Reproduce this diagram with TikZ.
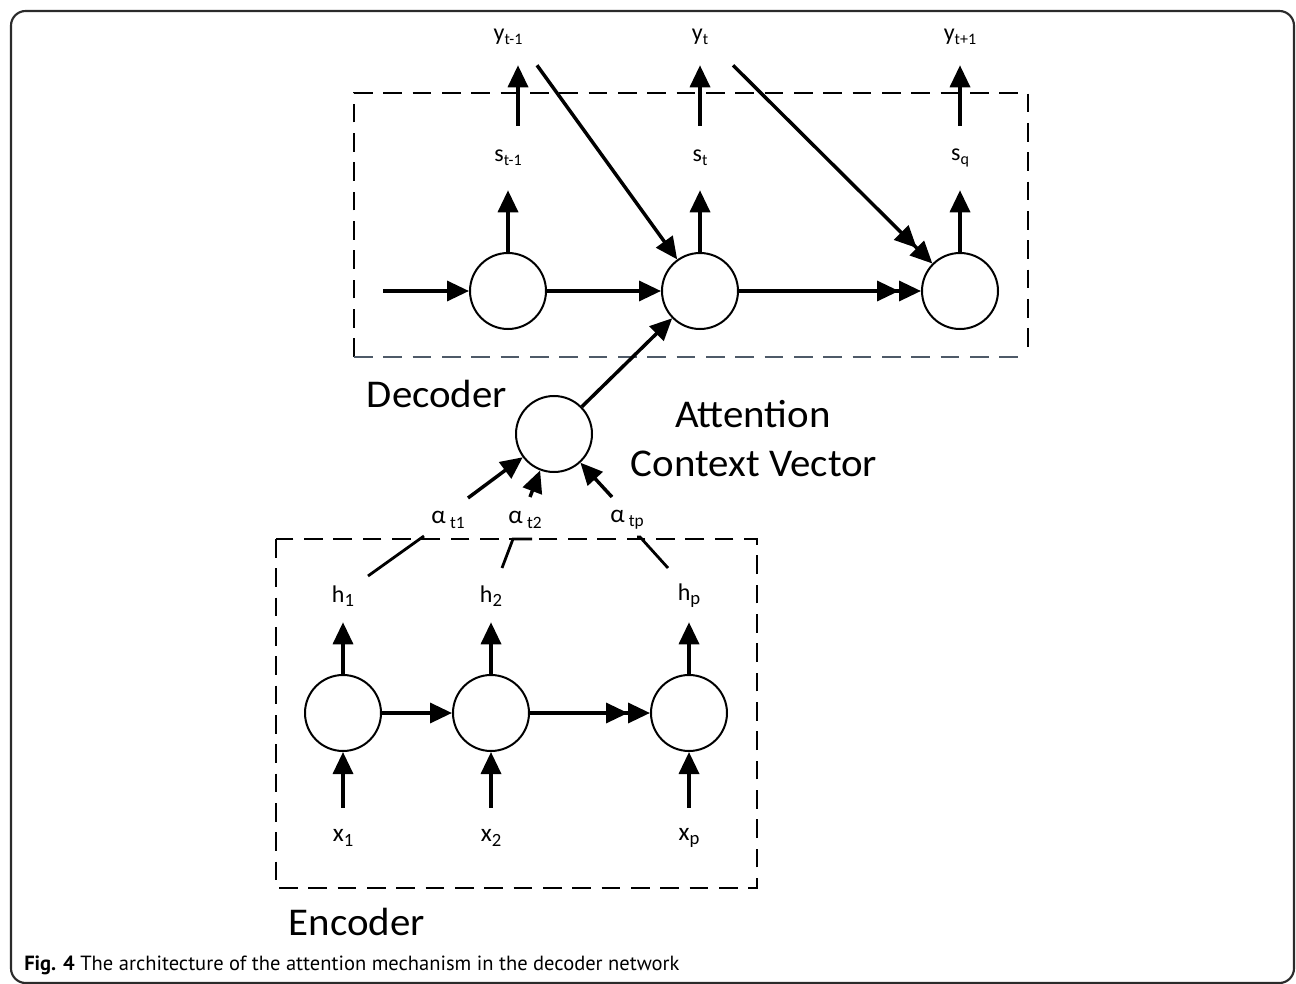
\documentclass[tikz,border=0pt]{standalone}
\usepackage{fontspec}
\setmainfont{Carlito}
\newfontfamily\capfont{PT Sans}
\newfontfamily\labfont[FakeStretch=1.04]{Carlito}
\usetikzlibrary{arrows.meta,calc}
\definecolor{framegray}{HTML}{2B2B2B}
\definecolor{slate}{HTML}{4E5A68}
% lowered index for the small labels
\newcommand\lidx[2][12]{\raisebox{-0.35ex}{\fontsize{#1}{#1}\selectfont #2}}
\begin{document}
\begin{tikzpicture}[x=0.75pt,y=-0.75pt,
  cell/.style={draw,circle,line width=1.5pt,minimum size=57pt,inner sep=0pt},
  arr/.style={line width=2.6pt,-{Triangle[length=16.5pt,width=15pt]}},
  arrr/.style={line width=2.6pt,-{Triangle[length=16.5pt,width=15pt]Triangle[length=16.5pt,width=15pt]}},
  link/.style={line width=2.1pt},
  dbox/.style={line width=2.1pt,dash pattern=on 14pt off 8pt},
  toplab/.style={inner sep=0pt,minimum width=30pt,font=\fontsize{18}{18}\selectfont},
  ylab/.style={toplab,minimum height=42pt},
  slab/.style={toplab,minimum height=48pt},
  hlab/.style={inner sep=0pt,minimum height=39pt,font=\fontsize{18}{18}\selectfont},
  xlab/.style={inner sep=0pt,minimum height=45pt,font=\fontsize{19}{19}\selectfont},
  alab/.style={inner sep=0pt,font=\fontsize{19}{19}\selectfont},
  bigtext/.style={inner sep=0pt,font=\labfont\fontsize{29.5}{32}\selectfont}
]
\useasboundingbox (0,0) rectangle (1296,984);
% outer frame
\draw[framegray,line width=1.6pt,rounded corners=11pt] (11,11) rectangle (1294,983);

% ---------- decoder ----------
\draw[dbox] (354,357) -- (354,93) -- (1028,93) -- (1028,357);
\draw[dbox,slate] (354,357) -- (1028,357);
\node[bigtext] (dec) at (437,394) {Decoder};

\node[cell] (d1) at (508,291) {};
\node[cell] (d2) at (700,291) {};
\node[cell] (d3) at (960,291) {};

\node[slab] (s1) at (508,158) {s\lidx{t-1}};
\node[slab] (s2) at (700,158) {s\lidx{t}};
\node[slab] (s3) at (960,158) {s\lidx{q}};
\node[ylab] (y1) at (508,37) {y\lidx{t-1}};
\node[ylab] (y2) at (700,37) {y\lidx{t}};
\node[ylab] (y3) at (960,37) {y\lidx{t+1}};

\coordinate (din) at (383,291);
\draw[arr] (din) -- (d1);
\draw[arr] (d1) -- (d2);
\draw[arrr] (d2) -- (d3);

\draw[arr] (d1) -- (s1);
\draw[arr] (d2) -- (s2);
\draw[arr] (d3) -- (s3);
\draw[arr] ($(s1.north)+(10,0)$) -- ($(y1.south)+(10,0)$);
\draw[arr] (s2) -- (y2);
\draw[arr] (s3) -- (y3);

\draw[arr] ($(y1.south)+(29,0)$) -- (d2);
\draw[arrr] ($(y2.south)+(33,0)$) -- (d3);

% ---------- attention ----------
\node[cell] (att) at (554,434) {};
\node[bigtext] (attl) at (753,414) {Attention};
\node[bigtext] (ctx) at (754,464) {Context Vector};
\draw[arr] (att) -- (d2);

\node[alab] (a1) at (448,520) {α\,\lidx[13]{t1}};
\node[alab] (a2) at (525,520) {α\,\lidx[13]{t2}};
\node[alab] (a3) at (627,520) {α\,\lidx[13]{tp}};

\draw[arr] ($(a1)+(20,-22)$) -- (att);
\draw[arr] ($(a2)+(5,-23)$) -- (att);
\draw[arr] ($(a3)+(-15,-23)$) -- (att);

% ---------- encoder ----------
\draw[dbox] (276,539) rectangle (757,888);
\node[bigtext] (enc) at (357,922) {Encoder};

\node[cell] (e1) at (343,713) {};
\node[cell] (e2) at (491,713) {};
\node[cell] (e3) at (689,713) {};

\node[hlab] (h1) at (343,596) {h\lidx[14]{1}};
\node[hlab] (h2) at (491,596) {h\lidx[14]{2}};
\node[hlab] (h3) at (689,596) {h\lidx[14]{p}};
\node[xlab] (x1) at (343,838) {x\lidx[14]{1}};
\node[xlab] (x2) at (491,838) {x\lidx[14]{2}};
\node[xlab] (x3) at (689,838) {x\lidx[14]{p}};

\draw[arr] (e1) -- (e2);
\draw[arrr] (e2) -- (e3);
\draw[arr] (e1) -- (h1);
\draw[arr] (e2) -- (h2);
\draw[arr] (e3) -- (h3);
\draw[arr] (x1) -- (e1);
\draw[arr] (x2) -- (e2);
\draw[arr] (x3) -- (e3);

% hidden states feeding the weights
\draw[link] ($(h1)+(25,-20)$) -- ($(a1)+(-24,16)$);
\draw[link] ($(h2)+(11,-28)$) -- ($(a2)+(-12,19)$) -- ($(a2)+(7,19)$);
\draw[link] ($(h3)+(-21,-28)$) -- ($(a3)+(13,17)$) -- ($(a3)+(10,17)$);

% ---------- caption ----------
\node[anchor=base west,inner sep=0pt] (cap) at (24,970)
  {\capfont\fontsize{15.4}{17}\selectfont\textbf{Fig. 4} The architecture of the attention mechanism in the decoder network};
\end{tikzpicture}
\end{document}
